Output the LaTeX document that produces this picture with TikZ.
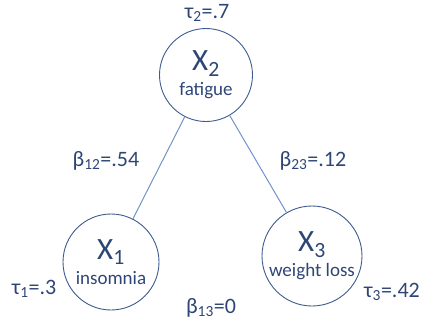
\documentclass[tikz,border=0pt]{standalone}
\usepackage{fontspec}
\setmainfont{Carlito}
\usepackage{tikz}
\usetikzlibrary{positioning}
\definecolor{navytext}{HTML}{2E4676}
\definecolor{ringline}{HTML}{3D5C8F}
\definecolor{edgeline}{HTML}{7193C8}

\begin{document}
\begin{tikzpicture}[x=1pt, y=-1pt,
    varnode/.style={circle, draw=ringline, line width=0.9pt, minimum size=96pt,
      inner sep=0pt, align=center, text=navytext, font=\fontsize{19}{22}\selectfont},
    parlabel/.style={text=navytext, font=\fontsize{22}{24}\selectfont, inner sep=0pt},
    edge/.style={draw=edgeline, line width=1pt}]
    \useasboundingbox (0,0) rectangle (424,330);

    % Variables
    \node[varnode, minimum size=93pt] (x2) at (206,75)
      {{\fontsize{31}{31}\selectfont X\textsubscript{2}}\\[3pt]fatigue};
    \node[varnode] (x1) at (111,262)
      {{\fontsize{31}{31}\selectfont X\textsubscript{1}}\\[3pt]insomnia};
    \node[varnode, minimum size=100pt] (x3) at (312,256)
      {{\fontsize{31}{31}\selectfont X\textsubscript{3}}\\[3pt]weight loss};

    % Edges
    \draw[edge] (x2) -- (x1);
    \draw[edge] (x2) -- (x3);

    % Thresholds and weights
    \node[parlabel] (tau2) at (207,13) {τ\textsubscript{2}=.7};
    \node[parlabel] (tau1) at (34,289) {τ\textsubscript{1}=.3};
    \node[parlabel] (tau3) at (392,292) {τ\textsubscript{3}=.42};
    \node[parlabel] (b12) at (106,161) {β\textsubscript{12}=.54};
    \node[parlabel] (b23) at (313,161) {β\textsubscript{23}=.12};
    \node[parlabel] (b13) at (211,308) {β\textsubscript{13}=0};
\end{tikzpicture}
\end{document}
